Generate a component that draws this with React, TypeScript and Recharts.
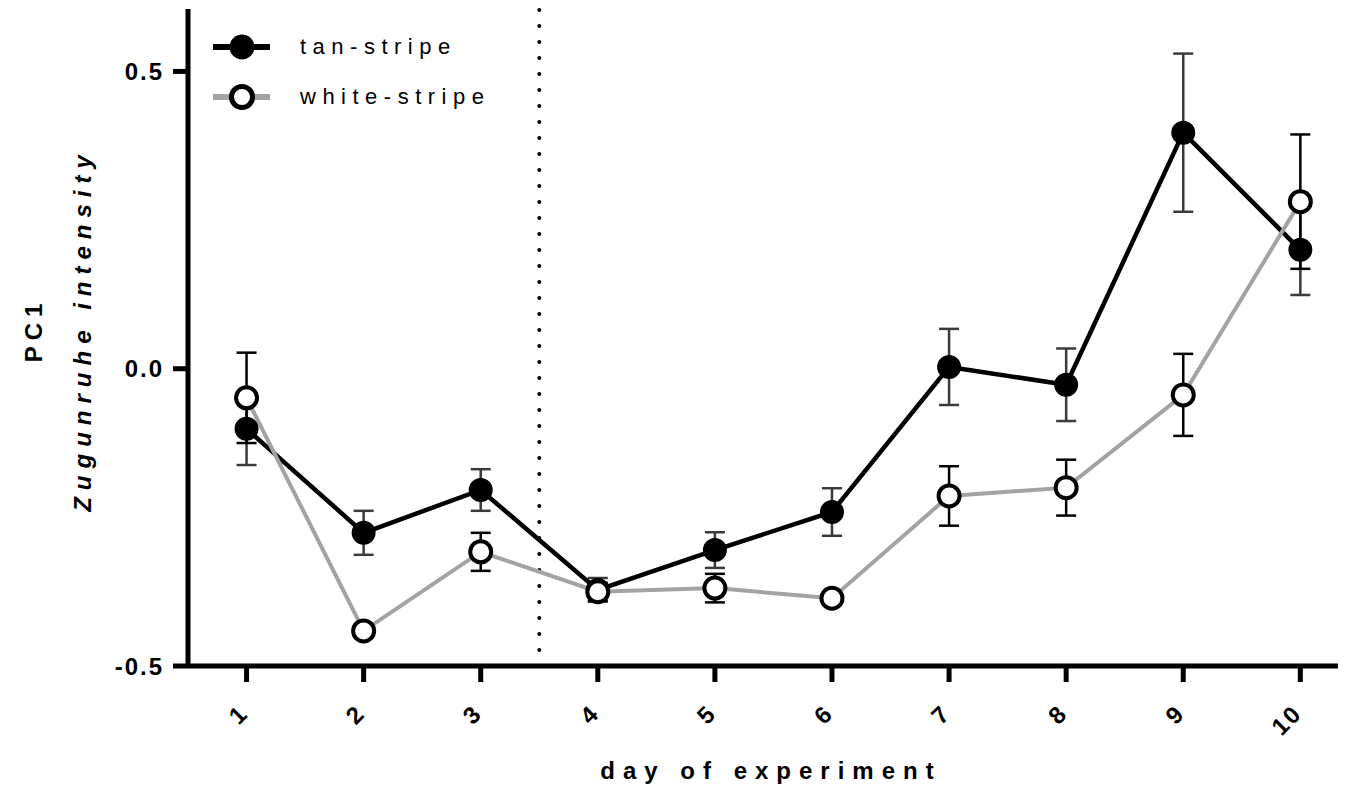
import React from 'react';
import { LineChart, Line, XAxis, YAxis, ErrorBar, ReferenceLine, Legend, Label } from 'recharts';

const days = [1, 2, 3, 4, 5, 6, 7, 8, 9, 10];
const tanStripe = [-0.101, -0.276, -0.204, -0.372, -0.305, -0.241, 0.003, -0.027, 0.397, 0.2];
const tanStripeErr = [0.061, 0.037, 0.035, 0.02, 0.03, 0.04, 0.064, 0.061, 0.133, 0.076];
const whiteStripe = [-0.049, -0.441, -0.308, -0.375, -0.369, -0.386, -0.214, -0.2, -0.044, 0.281];
const whiteStripeErr = [0.076, 0.01, 0.032, 0.015, 0.024, 0.01, 0.05, 0.047, 0.069, 0.113];
const yTicks = [-0.5, 0, 0.5];
const seriesNames = ['tan-stripe', 'white-stripe'];
const dividerDay = 3.5;
const xTitle = 'day of experiment';
const yTitleTop = 'PC1';
const yTitleBottom = 'Zugunruhe intensity';

const data = days.map((d, i) => ({
  day: d,
  tan: tanStripe[i],
  tanErr: tanStripeErr[i],
  white: whiteStripe[i],
  whiteErr: whiteStripeErr[i],
}));

const FONT = '"Liberation Sans", Arial, Helvetica, sans-serif';
const GRAY = '#a3a3a3';

const XTick = (props: any) => {
  const { x, y, payload } = props;
  const ax = x + 3;
  const ay = y + 33;
  return (
    <text
      x={ax}
      y={ay}
      transform={`rotate(-45, ${ax}, ${ay})`}
      textAnchor="end"
      fontFamily={FONT}
      fontWeight="bold"
      fontSize={24}
      letterSpacing={2}
      fill="#000"
    >
      {payload.value}
    </text>
  );
};

const YTick = (props: any) => {
  const { x, y, payload } = props;
  return (
    <text
      x={x}
      y={y}
      dy={8.5}
      textAnchor="end"
      fontFamily={FONT}
      fontWeight="bold"
      fontSize={24}
      letterSpacing={2}
      fill="#000"
    >
      {Number(payload.value).toFixed(1)}
    </text>
  );
};

const YTitle = () => (
  <g>
    <text
      x={34}
      y={322}
      transform="rotate(-90, 34, 322)"
      textAnchor="middle"
      fontFamily={FONT}
      fontWeight="bold"
      fontSize={24}
      letterSpacing={6}
      fill="#000"
    >
      {yTitleTop}
    </text>
    <text
      x={83}
      y={322}
      transform="rotate(-90, 83, 322)"
      textAnchor="middle"
      fontFamily={FONT}
      fontWeight="bold"
      fontStyle="italic"
      fontSize={24}
      letterSpacing={7}
      fill="#000"
    >
      {yTitleBottom}
    </text>
  </g>
);

const XTitle = () => (
  <text
    x={763}
    y={771}
    textAnchor="middle"
    fontFamily={FONT}
    fontWeight="bold"
    fontSize={24}
    letterSpacing={8}
    fill="#000"
  >
    {xTitle}
  </text>
);

const LegendContent = () => (
  <svg width={520} height={130} style={{ overflow: 'visible' }}>
    <line x1={205} y1={39} x2={262} y2={39} stroke="#000" strokeWidth={6} />
    <circle cx={234} cy={39} r={12.5} fill="#000" />
    <text x={292} y={39} dy={7} fontFamily={FONT} fontSize={22} letterSpacing={6.5} fill="#000">
      {seriesNames[0]}
    </text>
    <line x1={205} y1={89} x2={262} y2={89} stroke={GRAY} strokeWidth={6} />
    <circle cx={234} cy={89} r={10.5} fill="#fff" stroke="#000" strokeWidth={5} />
    <text x={292} y={89} dy={7} fontFamily={FONT} fontSize={22} letterSpacing={6.5} fill="#000">
      {seriesNames[1]}
    </text>
  </svg>
);

export default function App() {
  return (
    <div style={{ width: 1338, height: 778 }}>
      <LineChart
        width={1338}
        height={778}
        data={data}
        margin={{ top: 1, right: 0, bottom: 0, left: 0 }}
      >
        <XAxis
          dataKey="day"
          type="number"
          domain={[0.5, 10.39]}
          ticks={days}
          allowDataOverflow
          height={120}
          tickSize={16}
          tickMargin={0}
          tick={<XTick />}
          axisLine={{ stroke: '#000', strokeWidth: 5 }}
          tickLine={{ stroke: '#000', strokeWidth: 5 }}
        >
          <Label content={<XTitle />} />
        </XAxis>
        <YAxis
          type="number"
          domain={[-0.5, 0.605]}
          ticks={yTicks}
          allowDataOverflow
          width={180}
          tickSize={15}
          tickMargin={9}
          tick={<YTick />}
          axisLine={{ stroke: '#000', strokeWidth: 5 }}
          tickLine={{ stroke: '#000', strokeWidth: 5 }}
        >
          <Label content={<YTitle />} />
        </YAxis>
        <ReferenceLine
          x={dividerDay}
          stroke="#000"
          strokeWidth={4}
          strokeDasharray="0 16"
          strokeLinecap="round"
        />
        <Legend
          layout="vertical"
          align="center"
          verticalAlign="middle"
          content={<LegendContent />}
          wrapperStyle={{ left: 0, top: 0, width: 520, height: 130 }}
        />
        <Line
          dataKey="tan"
          stroke="#000"
          strokeWidth={4.5}
          isAnimationActive={false}
          dot={false}
          activeDot={false}
        >
          <ErrorBar dataKey="tanErr" direction="y" width={10} strokeWidth={2.5} stroke="#3a3a3a" />
        </Line>
        <Line
          dataKey="white"
          stroke={GRAY}
          strokeWidth={4}
          isAnimationActive={false}
          dot={false}
          activeDot={false}
        >
          <ErrorBar dataKey="whiteErr" direction="y" width={10} strokeWidth={2.5} stroke="#000" />
        </Line>
        <Line
          dataKey="tan"
          stroke="none"
          zIndex={1500}
          isAnimationActive={false}
          dot={{ r: 11, fill: '#000', stroke: '#000', strokeWidth: 2 }}
          activeDot={false}
        />
        <Line
          dataKey="white"
          stroke="none"
          zIndex={1600}
          isAnimationActive={false}
          dot={{ r: 10.5, fill: '#fff', stroke: '#000', strokeWidth: 4 }}
          activeDot={false}
        />
      </LineChart>
    </div>
  );
}
